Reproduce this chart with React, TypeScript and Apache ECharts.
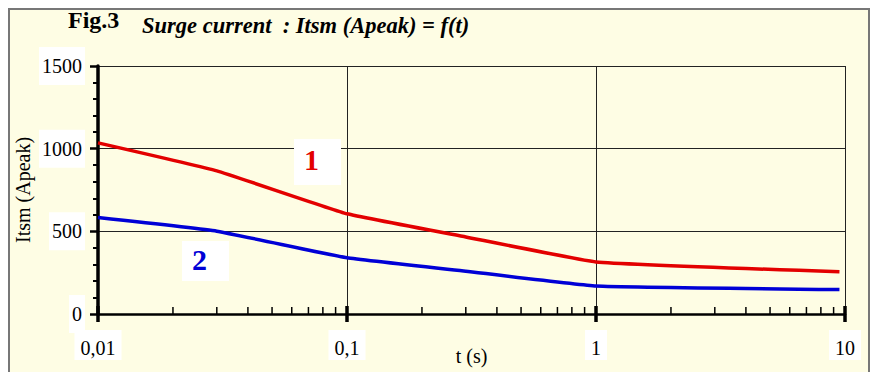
import React, { useEffect, useRef } from 'react';
import * as echarts from 'echarts';

// ---- data ----
const tValues = [0.01, 0.03, 0.1, 0.3, 1, 9.5];
const curve1 = [1035, 866, 606, 466, 315, 255];
const curve2 = [583, 501, 340, 259, 170, 148];
const curveNames = ['1', '2'];

const xTickLabels = ['0,01', '0,1', '1', '10'];
const xMajorTicks = [0.01, 0.1, 1, 10];
const xMinorTicks = [
  0.02, 0.03, 0.04, 0.05, 0.06, 0.07, 0.08, 0.09,
  0.2, 0.3, 0.4, 0.5, 0.6, 0.7, 0.8, 0.9,
  2, 3, 4, 5, 6, 7, 8, 9,
];
const yMin = 0;
const yMax = 1500;
const yStep = 500;

const figLabel = 'Fig.3';
const titleText = 'Surge current  : Itsm (Apeak) = f(t)';
const xName = 't (s)';
const yName = 'Itsm (Apeak)';

const SERIF = '"Liberation Serif", "Times New Roman", serif';
const RED = '#e30000';
const BLUE = '#0000d6';

export default function App() {
  const ref = useRef<HTMLDivElement>(null);

  useEffect(() => {
    if (!ref.current) return;
    const chart = echarts.init(ref.current, null, { renderer: 'svg' });

    const tickItem = (up: number, down: number, w: number) => (params: any, api: any) => {
      const p = api.coord([api.value(0), 0]);
      return {
        type: 'line',
        shape: { x1: p[0], y1: p[1] + down, x2: p[0], y2: p[1] - up },
        style: { stroke: '#000', lineWidth: w },
      };
    };

    chart.setOption({
      animation: false,
      backgroundColor: 'transparent',
      grid: { left: 98, top: 66, right: 28, bottom: 58, containLabel: false, outerBoundsMode: 'none' },
      xAxis: {
        type: 'log',
        logBase: 10,
        min: 0.01,
        max: 10,
        name: xName,
        nameLocation: 'middle',
        nameGap: 32,
        nameMoveOverlap: false,
        nameTextStyle: { fontFamily: SERIF, fontSize: 20, color: '#000' },
        axisLine: { show: true, lineStyle: { color: '#000', width: 2.5 } },
        axisTick: { show: false },
        minorTick: { show: false },
        axisLabel: {
          formatter: (v: number) => xTickLabels[Math.round(Math.log10(v)) + 2] ?? '',
          fontFamily: SERIF,
          fontSize: 20,
          color: '#000',
          backgroundColor: '#fff',
          padding: [8, 6, 2, 6],
          margin: 16,
        },
        splitLine: { show: true, lineStyle: { color: '#222', width: 1 } },
      },
      yAxis: {
        type: 'value',
        min: yMin,
        max: yMax,
        interval: yStep,
        name: yName,
        nameLocation: 'middle',
        nameGap: 65,
        nameMoveOverlap: false,
        nameTextStyle: { fontFamily: SERIF, fontSize: 20, color: '#000' },
        axisLine: { show: true, lineStyle: { color: '#000', width: 3.5 } },
        axisTick: { show: true, length: 8, lineStyle: { color: '#000', width: 2.5 } },
        minorTick: { show: true, splitNumber: 5, length: 5, lineStyle: { color: '#000', width: 2 } },
        axisLabel: {
          formatter: (v: number) => String(v),
          fontFamily: SERIF,
          fontSize: 20,
          color: '#000',
          backgroundColor: '#fff',
          padding: [14, 3, 4, 3],
          margin: 13,
        },
        splitLine: { show: true, lineStyle: { color: '#222', width: 1 } },
      },
      series: [
        {
          type: 'line',
          name: curveNames[0],
          data: tValues.map((t, i) => [t, curve1[i]]),
          symbol: 'none',
          smooth: 0.1,
          lineStyle: { color: RED, width: 3.5 },
          itemStyle: { color: RED },
          z: 3,
        },
        {
          type: 'line',
          name: curveNames[1],
          data: tValues.map((t, i) => [t, curve2[i]]),
          symbol: 'none',
          smooth: 0.1,
          lineStyle: { color: BLUE, width: 3.5 },
          itemStyle: { color: BLUE },
          z: 3,
        },
        {
          type: 'custom',
          clip: false,
          silent: true,
          data: xMinorTicks.map((v) => [v, 0]),
          renderItem: tickItem(7, 0, 1.5),
          z: 5,
        },
        {
          type: 'custom',
          clip: false,
          silent: true,
          data: xMajorTicks.map((v) => [v, 0]),
          renderItem: tickItem(8, 8, 3.5),
          z: 5,
        },
      ],
      graphic: [
        {
          type: 'text',
          left: 68,
          top: 8,
          style: { text: figLabel, font: `bold 24px ${SERIF}`, fill: '#000' },
        },
        {
          type: 'text',
          left: 142,
          top: 14,
          style: { text: titleText, font: `italic bold 22.5px ${SERIF}`, fill: '#000' },
        },
        {
          type: 'rect',
          left: 294,
          top: 139,
          shape: { width: 47, height: 46 },
          style: { fill: '#fff' },
          z: 20,
        },
        {
          type: 'text',
          left: 304,
          top: 144,
          style: { text: curveNames[0], font: `bold 30px ${SERIF}`, fill: RED },
          z: 21,
        },
        {
          type: 'rect',
          left: 182,
          top: 241,
          shape: { width: 47, height: 40 },
          style: { fill: '#fff' },
          z: 20,
        },
        {
          type: 'text',
          left: 192,
          top: 244,
          style: { text: curveNames[1], font: `bold 30px ${SERIF}`, fill: BLUE },
          z: 21,
        },
      ],
    });

    return () => chart.dispose();
  }, []);

  return (
    <div style={{ position: 'fixed', left: 0, top: 0, width: 873, height: 372, background: '#fff', overflow: 'hidden' }}>
      <div
        style={{
          position: 'absolute',
          left: 8,
          top: 8,
          width: 862,
          height: 400,
          boxSizing: 'border-box',
          border: '2px solid #777',
          background: '#fefde4',
        }}
      />
      <div ref={ref} style={{ position: 'absolute', left: 0, top: 0, width: 873, height: 372 }} />
    </div>
  );
}
